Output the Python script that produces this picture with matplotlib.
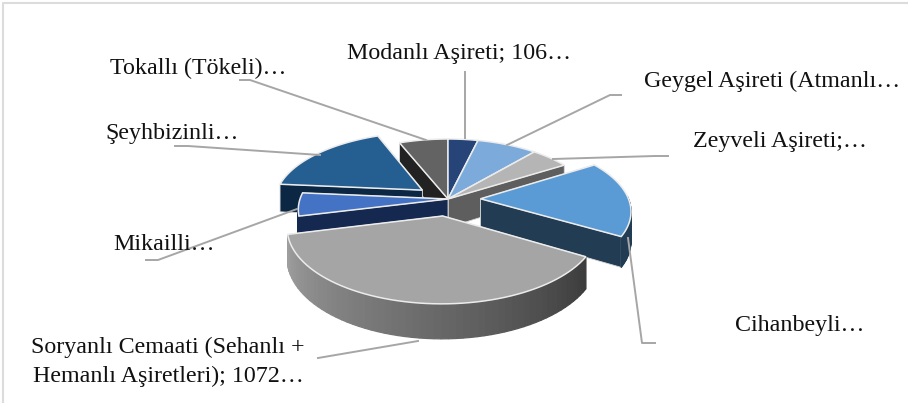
import numpy as np
import matplotlib
matplotlib.use('Agg')
import matplotlib.pyplot as plt
from matplotlib.patches import Polygon

# slices, clockwise from 12 o'clock
names = ['Modanlı', 'Geygel', 'Zeyveli', 'Cihanbeyli', 'Soryanlı', 'Mikailli', 'Şeyhbizinli', 'Tokallı']
values = [106, 214, 138, 493, 1072, 150, 497, 173]
explode = [0, 0, 0, 0.22, 0.24, 0, 0.22, 0]
top_colors = ['#264478', '#7cabdb', '#b5b5b5', '#5b9bd5', '#a5a5a5', '#4472c4', '#255e91', '#636363']
wall_colors = ['#16294a', '#4a6f96', '#5e5e5e', '#223c54', '#5a5a5a', '#15284f', '#0c2743', '#222222']

labels = ['Modanlı Aşireti; 106…', 'Tokallı (Tökeli)…', 'Geygel Aşireti (Atmanlı…', 'Zeyveli Aşireti;…',
          'Şeyhbizinli…', 'Mikailli…', 'Cihanbeyli…', 'Soryanlı Cemaati (Sehanlı +\nHemanlı Aşiretleri); 1072…']
label_x = [347, 110, 644, 693, 105, 113, 735, 168]
label_y = [53, 68, 81, 141, 133, 244, 326, 362]
label_ha = ['left'] * 7 + ['center']

leaders = [[(465, 72), (465, 138)],
           [(240, 80), (250, 80), (426, 140)],
           [(621, 95), (610, 95), (507, 145)],
           [(668, 156), (655, 156), (553, 159)],
           [(175, 146), (188, 146), (320, 155)],
           [(146, 260), (158, 260), (297, 209)],
           [(655, 343), (642, 343), (628, 238)],
           [(318, 358), (418, 341)]]

# projection of the pie plane, pixels
CX, CY = 448, 199
R, A, K, DEPTH = 148, 69, 0.15, 28.5


def project(X, Y, down=False):
    s = 1 / (1 - K * Y)
    x = CX + R * X * s
    y = CY + A * Y * s
    if down:
        y = y + DEPTH * s
    return np.column_stack([x, y])


def mix(c1, c2, f):
    a = np.array(matplotlib.colors.to_rgb(c1))
    b = np.array(matplotlib.colors.to_rgb(c2))
    return a + (b - a) * f


fig = plt.figure(figsize=(9.08, 4.03), dpi=100)
ax = fig.add_axes([0, 0, 1, 1])
ax.set_xlim(0, 908)
ax.set_ylim(403, 0)
ax.axis('off')

ax.plot([3, 3, 908], [403, 3, 3], color='#dcdcdc', lw=1.5, zorder=1)

edges = np.cumsum([0] + values) / sum(values) * 2 * np.pi
order = [7, 0, 1, 2, 6, 5, 3, 4]  # back to front
z = 2
for i in order:
    t = np.linspace(edges[i], edges[i + 1], 60)
    mid = (edges[i] + edges[i + 1]) / 2
    ox, oy = explode[i] * np.sin(mid), -explode[i] * np.cos(mid)
    X = ox + np.sin(t)
    Y = oy - np.cos(t)
    apex_x, apex_y = np.array([ox]), np.array([oy])

    # cut faces, the one further back first
    ends = [0, -1] if Y[0] < Y[-1] else [-1, 0]
    for j in ends:
        face = np.vstack([project(apex_x, apex_y), project(X[[j]], Y[[j]]),
                          project(X[[j]], Y[[j]], True), project(apex_x, apex_y, True)])
        ax.add_patch(Polygon(face, fc=wall_colors[i], ec='#d8d8d8', lw=0.6, zorder=z))
        z += 1

    # outer wall, the big slice gets its shading by segments
    for k in range(len(t) - 1):
        if np.cos(t[k]) > 0.05:
            continue
        seg = np.vstack([project(X[k:k + 2], Y[k:k + 2]), project(X[k:k + 2][::-1], Y[k:k + 2][::-1], True)])
        if names[i] == 'Soryanlı':
            col = mix('#3c3c3c', '#a0a0a0', (t[k] - edges[i]) / (edges[i + 1] - edges[i]))
        else:
            col = wall_colors[i]
        ax.add_patch(Polygon(seg, fc=col, ec=col, lw=0.9, zorder=z))
    z += 1

    top = np.vstack([project(apex_x, apex_y), project(X, Y)])
    ax.add_patch(Polygon(top, fc=top_colors[i], ec='#ececec', lw=1.1, zorder=z))
    z += 1

for pts in leaders:
    xs, ys = zip(*pts)
    ax.plot(xs, ys, color='#a6a6a6', lw=1.4, zorder=z)

for txt, x, y, ha in zip(labels, label_x, label_y, label_ha):
    ax.text(x, y, txt, ha=ha, va='center', fontsize=17.3, family='Liberation Serif',
            color='#111111', linespacing=1.45, zorder=z + 1)

fig.savefig('out.png', dpi=100)
